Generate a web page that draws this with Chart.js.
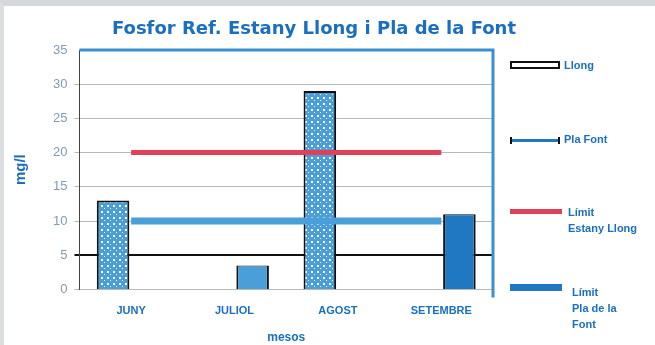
<!DOCTYPE html>
<html>
<head>
<meta charset="utf-8">
<script src="https://cdn.jsdelivr.net/npm/chart.js@4.4.1/dist/chart.umd.min.js"></script>
<style>
  html, body { margin: 0; padding: 0; background: #fff; }
  #wrap { position: relative; width: 655px; height: 345px; overflow: hidden;
          border-top: 6px solid #d4d8dc; border-left: 4px solid #dcdfe2; box-sizing: border-box; }
  canvas { position: absolute; left: 0; top: 0; }
  #title { position: absolute; left: 0; width: 620px; top: 11px; text-align: center;
           font: bold 18px "DejaVu Sans", sans-serif; color: #1a6fc0; }
  .lg { position: absolute; font: bold 11px "Liberation Sans", Arial, sans-serif; color: #1a6fc0; line-height: 16px; }
  .sw { position: absolute; box-sizing: border-box; }
</style>
</head>
<body>
<div id="wrap">
  <canvas id="c" width="651" height="339"></canvas>
  <div id="title">Fosfor Ref. Estany Llong i Pla de la Font</div>
  <div class="sw" style="left:506px;top:55px;width:50px;height:8px;border:2px solid #111;background:#fff;"></div>
  <div class="lg" style="left:560px;top:51px;">Llong</div>
  <div class="sw" style="left:506px;top:131px;width:50px;height:7px;border-left:2px solid #111;border-right:2px solid #111;background:linear-gradient(#fff 0 2px,#1f78c1 2px 5px,#fff 5px);"></div>
  <div class="lg" style="left:560px;top:125px;">Pla Font</div>
  <div class="sw" style="left:506px;top:203px;width:52px;height:5px;background:#e0405a;"></div>
  <div class="lg" style="left:564px;top:198px;">Límit<br>Estany Llong</div>
  <div class="sw" style="left:506px;top:278px;width:52px;height:7px;background:#1f78c1;"></div>
  <div class="lg" style="left:568px;top:278px;">Límit<br>Pla de la<br>Font</div>
</div>
<script>
// Fosfor – two lakes, monthly values with limit lines
const MONTHS = ["JUNY", "JULIOL", "AGOST", "SETEMBRE"];
const LLONG = [13, null, 29, null];
const PLA_FONT = [null, 3.5, null, 11];
const LIMIT_LLONG = [20, 20, 20, 20];
const LIMIT_PLA = [10, 10, 10, 10];
const Y_TICKS = [0, 5, 10, 15, 20, 25, 30, 35];

const BLUE = "#1a6fc0";

// dotted fill used for the Llong bars
function dotPattern() {
  const p = document.createElement("canvas");
  p.width = 6; p.height = 6;
  const g = p.getContext("2d");
  g.fillStyle = "#4a9fd8";
  g.fillRect(0, 0, 6, 6);
  g.fillStyle = "#fff";
  g.fillRect(1, 1, 2, 2);
  g.fillRect(4, 4, 1, 1);
  return g.createPattern(p, "repeat");
}

// blue frame on top and right of the plot
const frame = {
  id: "frame",
  afterDraw(chart) {
    const { ctx, chartArea: a } = chart;
    ctx.save();
    ctx.strokeStyle = "#3a8fd0";
    ctx.lineWidth = 3;
    ctx.beginPath();
    ctx.moveTo(a.left, a.top);
    ctx.lineTo(a.right, a.top);
    ctx.lineTo(a.right, a.bottom + 8);
    ctx.stroke();
    ctx.restore();
  },
};

new Chart(document.getElementById("c"), {
  data: {
    labels: MONTHS,
    datasets: [
      { type: "line", label: "Límit Estany Llong", data: LIMIT_LLONG, borderColor: "#e0405a",
        borderWidth: 5, pointRadius: 0, order: 0 },
      { type: "line", label: "Límit Pla de la Font", data: LIMIT_PLA, borderColor: "#4a9fd8",
        borderWidth: 7, pointRadius: 0, order: 1 },
      { type: "bar", label: "Llong", data: LLONG, backgroundColor: dotPattern(),
        borderColor: "#111", borderWidth: 2, order: 2 },
      { type: "bar", label: "Pla Font", data: PLA_FONT,
        backgroundColor: (c) => (c.dataIndex === 1 ? "#4a9fd8" : "#1f78c1"),
        borderColor: "#111", borderWidth: { left: 2, right: 2, top: 1, bottom: 0 }, order: 3 },
    ],
  },
  options: {
    responsive: false,
    animation: false,
    layout: { padding: { left: 4, right: 162, top: 44, bottom: 0 } },
    datasets: { bar: { categoryPercentage: 0.7, barPercentage: 0.9 } },
    plugins: {
      legend: { display: false },
      tooltip: { enabled: false },
    },
    scales: {
      x: {
        grid: { display: false },
        border: { display: false },
        ticks: { color: BLUE, font: { family: "Liberation Sans", size: 11, weight: "bold" }, padding: 7 },
        title: { display: true, text: "mesos", color: BLUE,
                 font: { family: "Liberation Sans", size: 12, weight: "bold" }, padding: { top: 6, bottom: 0 } },
      },
      y: {
        min: 0,
        max: 35,
        afterBuildTicks: (s) => { s.ticks = Y_TICKS.map((v) => ({ value: v })); },
        border: { display: true, color: "#444", width: 1 },
        grid: {
          drawOnChartArea: true,
          tickLength: 5,
          color: (c) => (c.tick && c.tick.value === 5 ? "#111" : (c.tick && c.tick.value === 35 ? "rgba(0,0,0,0)" : "#b8b8b8")),
          lineWidth: (c) => (c.tick && c.tick.value === 5 ? 2 : 1),
        },
        ticks: { color: "#7f9bb8", font: { family: "Liberation Sans", size: 13 }, padding: 7 },
        title: { display: true, text: "mg/l", color: BLUE,
                 font: { family: "Liberation Sans", size: 15, weight: "bold" }, padding: { bottom: 16 } },
      },
    },
  },
  plugins: [frame],
});
</script>
</body>
</html>
